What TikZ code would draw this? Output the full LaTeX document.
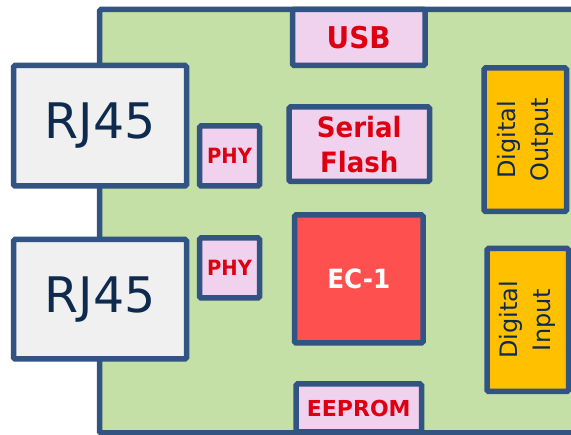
\documentclass[tikz,border=0pt]{standalone}
\usepackage{fontspec}
\setmainfont{DejaVu Sans}
\newfontfamily\labfont{DejaVu Sans Bold}[FakeStretch=0.93]
\newfontfamily\labfontw{DejaVu Sans Bold}
\begin{document}
\begin{tikzpicture}[x=1pt,y=-1pt,
  edge/.style={draw=bordc,line width=5.5pt,rounded corners=1.5pt},
  box/.style={edge,inner sep=0pt,align=center},
  pinkbox/.style={box,fill=pinkc,text=redc},
  digbox/.style={box,fill=digc},
  digtext/.style={text=navyc,rotate=90,align=center,inner sep=0pt,font=\fontsize{24}{33}\selectfont}]
\definecolor{bordc}{HTML}{325483}
\definecolor{boardc}{HTML}{C5E0A6}
\definecolor{pinkc}{HTML}{F0D1EE}
\definecolor{redc}{HTML}{DD0010}
\definecolor{greyc}{HTML}{F0F0F0}
\definecolor{navyc}{HTML}{0E2A4E}
\definecolor{ecc}{HTML}{FF5050}
\definecolor{digc}{HTML}{FFC000}
\useasboundingbox (0,0) rectangle (571,435);
\clip (0,0) rectangle (571,435);
% board
\path[edge,fill=boardc] (99.5,9.5) rectangle (620,433);
% RJ45 connectors
\node[box,fill=greyc,text=navyc,minimum width=173pt,minimum height=120.5pt,font=\fontsize{49}{55}\selectfont] (rja) at (100,125.75) {RJ45};
\node[box,fill=greyc,text=navyc,minimum width=173pt,minimum height=119.5pt,font=\fontsize{49}{55}\selectfont] (rjb) at (100,299.25) {RJ45};
% PHY
\node[pinkbox,minimum width=60pt,minimum height=60pt,font=\labfont\fontsize{21}{24}\selectfont] (phya) at (229.5,156) {PHY};
\node[pinkbox,minimum width=60pt,minimum height=60pt,font=\labfont\fontsize{21}{24}\selectfont] (phyb) at (229.5,268) {PHY};
% USB, flash, controller, EEPROM
\node[pinkbox,minimum width=132.5pt,minimum height=56pt,font=\labfont\fontsize{30}{32}\selectfont] (usb) at (358.75,37.5) {USB};
\node[pinkbox,minimum width=140.5pt,minimum height=74.5pt,font=\labfont\fontsize{28}{35}\selectfont] (flash) at (359.25,144.25) {Serial\\Flash};
\node[box,fill=ecc,text=white,minimum width=128.5pt,minimum height=128pt,font=\labfont\fontsize{26.5}{30}\selectfont] (ec) at (358.75,279) {EC-1};
\node[pinkbox,minimum width=125.5pt,minimum height=48pt,font=\labfontw\fontsize{22}{26}\selectfont] (eeprom) at (358.75,408) {EEPROM};
% digital I/O
\node[digbox,minimum width=82.5pt,minimum height=143.5pt] (dout) at (525.25,139.75) {};
\node[digtext] (douttext) at (dout.center) {Digital\\Output};
\node[digbox,minimum width=81.5pt,minimum height=143pt] (din) at (527.75,320) {};
\node[digtext] (dintext) at (din.center) {Digital\\Input};
\end{tikzpicture}
\end{document}
